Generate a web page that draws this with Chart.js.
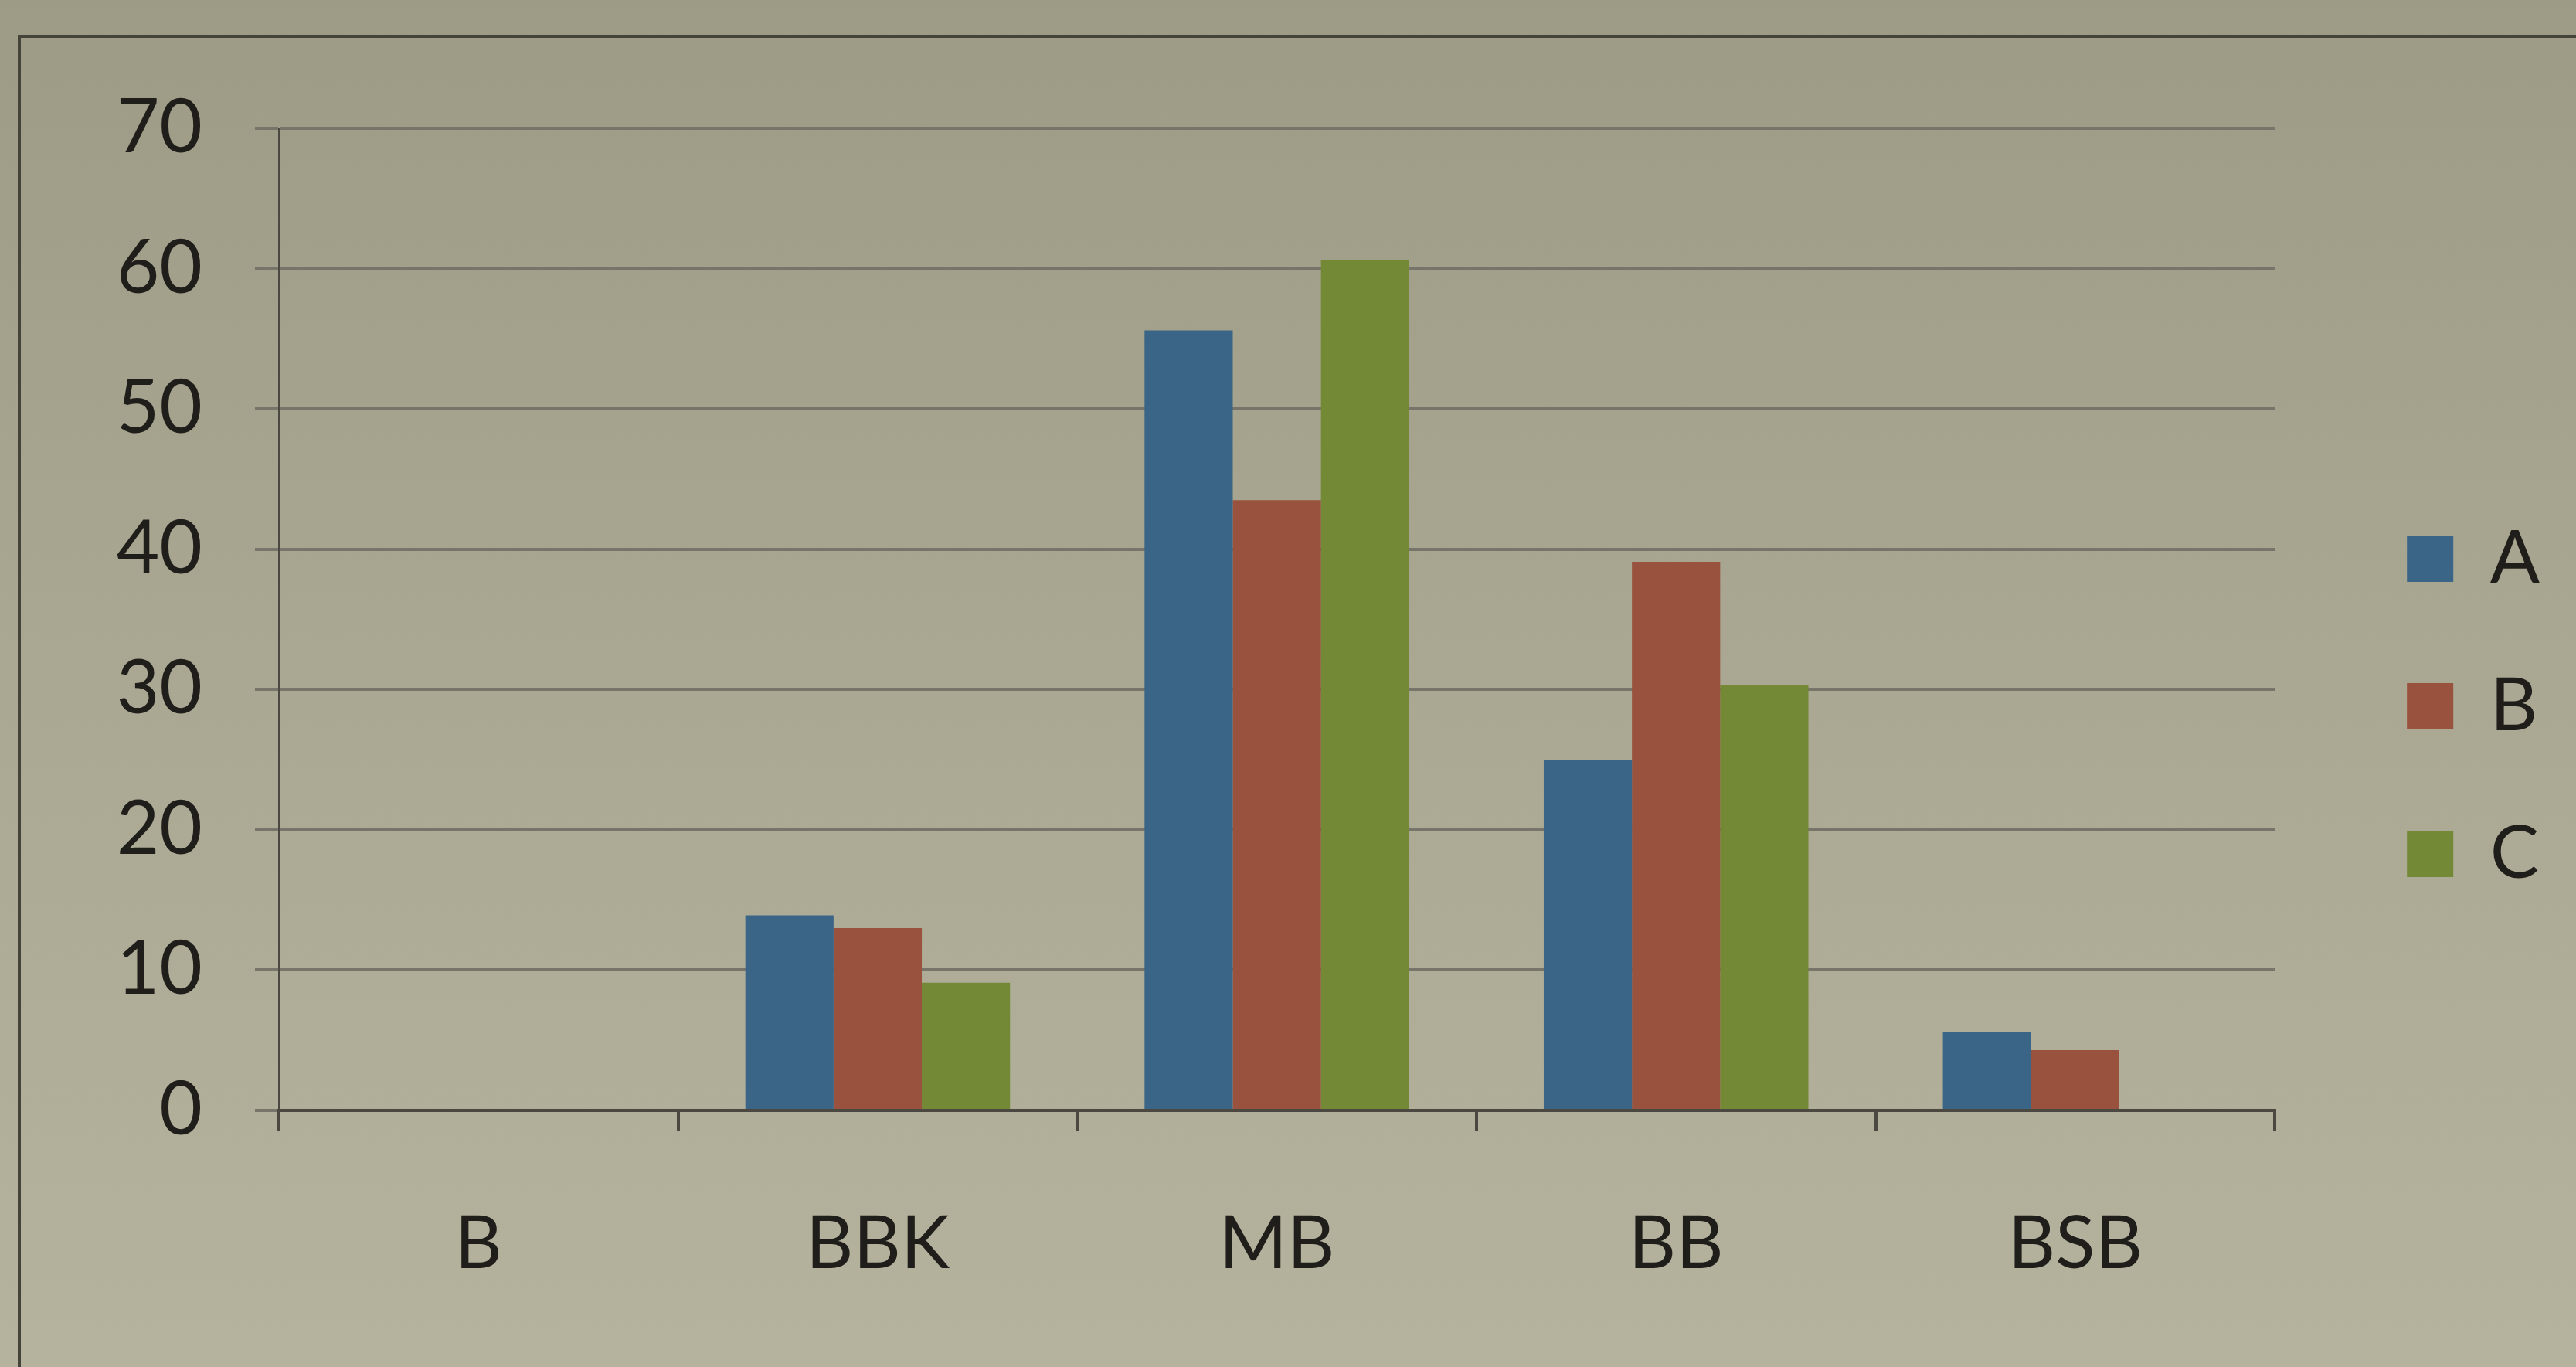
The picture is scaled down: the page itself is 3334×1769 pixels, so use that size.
<!DOCTYPE html>
<html>
<head>
<meta charset="utf-8">
<script src="https://cdn.jsdelivr.net/npm/chart.js@4.4.1/dist/chart.umd.min.js"></script>
<style>
  html, body { margin: 0; padding: 0; background: #aeac97; }
  #wrap { width: 3334px; height: 1769px; }
</style>
</head>
<body>
<div id="wrap"><canvas id="myChart" width="3334" height="1769"></canvas></div>
<script>
const categories = ['B', 'BBK', 'MB', 'BB', 'BSB'];
const seriesA = [0, 13.9, 55.6, 25, 5.6];
const seriesB = [0, 13, 43.5, 39.1, 4.3];
const seriesC = [0, 9.1, 60.6, 30.3, 0];
const yTicks = [0, 10, 20, 30, 40, 50, 60, 70];

Chart.defaults.font.family = 'Lato, "Open Sans", sans-serif';
Chart.defaults.color = '#1f1e1a';

// paper background + chart frame lines
const paper = {
  id: 'paper',
  beforeDraw(chart) {
    const ctx = chart.ctx;
    const g = ctx.createLinearGradient(0, 0, 0, chart.height);
    g.addColorStop(0, '#9d9a85');
    g.addColorStop(0.5, '#aaa893');
    g.addColorStop(1, '#b5b39e');
    ctx.save();
    ctx.fillStyle = g;
    ctx.fillRect(0, 0, chart.width, chart.height);
    ctx.strokeStyle = '#45443b';
    ctx.lineWidth = 4;
    ctx.beginPath();
    ctx.moveTo(25, chart.height);
    ctx.lineTo(25, 47);
    ctx.lineTo(chart.width, 47);
    ctx.stroke();
    ctx.restore();
  }
};

const data = {
  labels: categories,
  datasets: [
    { label: 'A', data: seriesA, backgroundColor: '#3a6586' },
    { label: 'B', data: seriesB, backgroundColor: '#98523e' },
    { label: 'C', data: seriesC, backgroundColor: '#748935' }
  ]
};

const config = {
  type: 'bar',
  data: data,
  plugins: [paper],
  options: {
    responsive: false,
    animation: false,
    layout: { padding: { top: 166, bottom: 107, left: 0, right: 37 } },
    datasets: {
      bar: { categoryPercentage: 0.663, barPercentage: 1.0, borderWidth: 0 }
    },
    plugins: {
      legend: {
        position: 'right',
        align: 'center',
        labels: {
          boxWidth: 60,
          boxHeight: 60,
          padding: 96,
          font: { size: 95 },
          color: '#1f1e1a'
        }
      },
      tooltip: { enabled: false }
    },
    scales: {
      x: {
        grid: {
          display: true,
          drawOnChartArea: false,
          drawTicks: true,
          tickLength: 26,
          color: '#4a4840',
          lineWidth: 4,
          offset: true
        },
        border: { display: true, color: '#4a4840', width: 4 },
        ticks: { font: { size: 95 }, padding: 90, color: '#1f1e1a' },
        afterFit(s) { s.height = 225; }
      },
      y: {
        min: 0,
        max: 70,
        afterBuildTicks(s) { s.ticks = yTicks.map(v => ({ value: v })); },
        grid: {
          color: '#77756a',
          lineWidth: 4,
          tickLength: 31,
          drawTicks: true
        },
        border: { display: true, color: '#4a4840', width: 3 },
        ticks: { font: { size: 96 }, padding: 68, color: '#1f1e1a' },
        afterFit(s) { s.width = 361; }
      },
      gap: {
        type: 'linear',
        position: 'right',
        display: true,
        grid: { display: false },
        border: { display: false },
        ticks: { display: false },
        afterFit(s) { s.width = 75; }
      }
    }
  }
};

const myChart = new Chart(document.getElementById('myChart'), config);
</script>
</body>
</html>
